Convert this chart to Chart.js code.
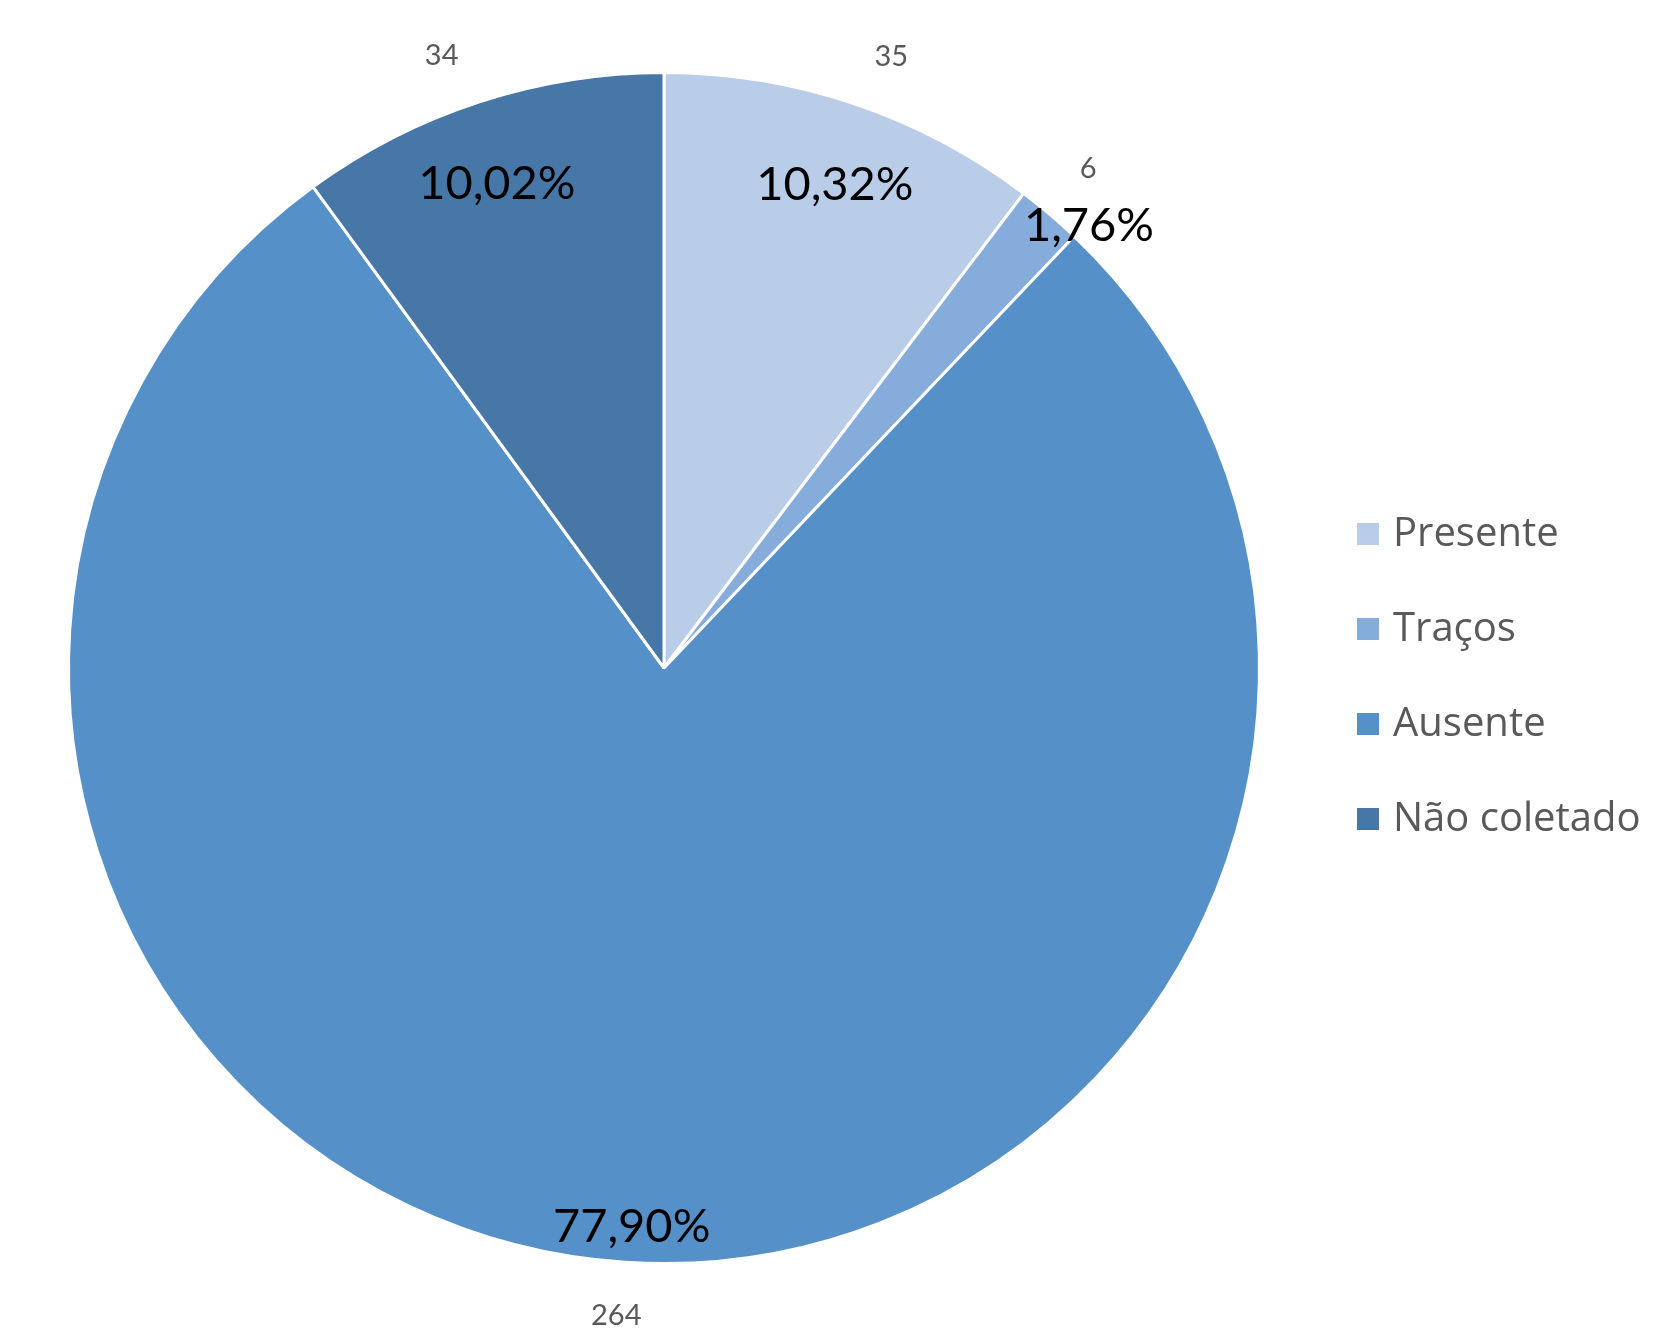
<!DOCTYPE html>
<html>
<head>
<meta charset="utf-8">
<script src="https://cdn.jsdelivr.net/npm/chart.js@4.4.1/dist/chart.umd.min.js"></script>
<style>
  html, body { margin: 0; padding: 0; background: #fff; }
  #wrap { width: 1677px; height: 1334px; }
</style>
</head>
<body>
<div id="wrap"><canvas id="pie-chart"></canvas></div>
<script>
const categorias = ['Presente', 'Traços', 'Ausente', 'Não coletado'];
const contagens = [35, 6, 264, 34];
const rotulosPct = ['10,32%', '1,76%', '77,90%', '10,02%'];
const cores = ['#B9CDE8', '#86ACDB', '#5591C8', '#4677A7'];

// ajustes visuais dos rótulos: raio relativo e desvio de ângulo (graus)
const ajustePct = [[0.86, 0.9], [1.03, 3.5], [0.94, -0.4], [0.86, -1.0]];
const ajusteCont = [[1.096, 1.8], [1.10, 0], [1.09, 0.5], [1.094, -1.9]];

function pontoNoArco(p, fator, desvioGraus) {
    const ang = (p.startAngle + p.endAngle) / 2 + desvioGraus * Math.PI / 180;
    const r = p.outerRadius * fator;
    return [p.x + Math.cos(ang) * r, p.y + Math.sin(ang) * r];
}

const rotulosPlugin = {
    id: 'rotulos',
    afterDatasetsDraw(chart) {
        const ctx = chart.ctx;
        const meta = chart.getDatasetMeta(0);
        ctx.save();
        ctx.textAlign = 'center';
        ctx.textBaseline = 'middle';
        meta.data.forEach((arc, i) => {
            const p = arc.getProps(['x', 'y', 'startAngle', 'endAngle', 'outerRadius'], true);
            let [x, y] = pontoNoArco(p, ajustePct[i][0], ajustePct[i][1]);
            ctx.font = '47px Lato';
            ctx.fillStyle = '#000';
            ctx.fillText(rotulosPct[i], x, y);
            [x, y] = pontoNoArco(p, ajusteCont[i][0], ajusteCont[i][1]);
            ctx.font = '29px Lato';
            ctx.fillStyle = '#595959';
            ctx.fillText(String(contagens[i]), x, y);
        });
        // legenda
        ctx.textAlign = 'left';
        ctx.font = '40px "Open Sans"';
        categorias.forEach((c, i) => {
            const y = 534 + i * 95;
            ctx.fillStyle = cores[i];
            ctx.fillRect(1357, y - 11, 22, 22);
            ctx.fillStyle = '#595959';
            ctx.fillText(c, 1393, y + 1);
        });
        ctx.restore();
    }
};

document.addEventListener('DOMContentLoaded', function () {
    const el = document.getElementById('pie-chart');
    new Chart(el, {
        type: 'pie',
        data: {
            labels: categorias,
            datasets: [{
                data: contagens,
                backgroundColor: cores,
                borderColor: '#ffffff',
                borderWidth: 3
            }]
        },
        options: {
            responsive: true,
            maintainAspectRatio: false,
            animation: false,
            layout: {
                padding: { left: 67, right: 416, top: 71, bottom: 69 }
            },
            plugins: {
                legend: { display: false },
                tooltip: { enabled: false }
            }
        },
        plugins: [rotulosPlugin]
    });
});
</script>
</body>
</html>
